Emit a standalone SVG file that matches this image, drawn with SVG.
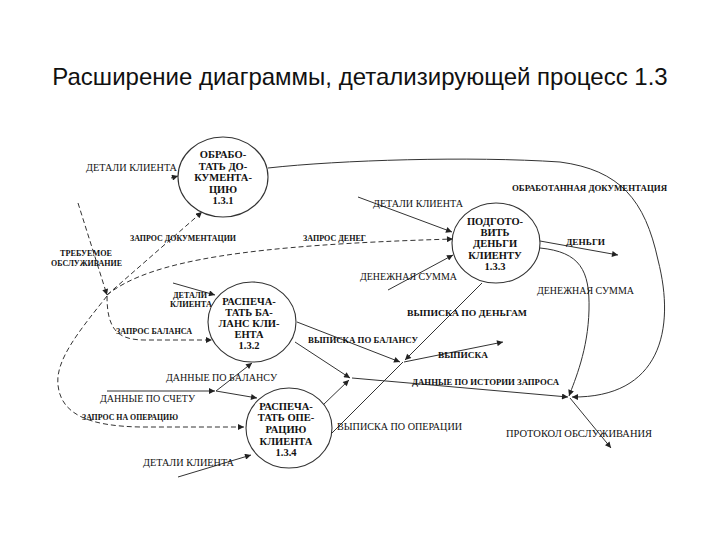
<svg xmlns="http://www.w3.org/2000/svg" width="720" height="540" viewBox="0 0 720 540">
<style>
.title{font-family:"Liberation Sans",Arial,sans-serif;font-size:24px;fill:#111}
.node ellipse{fill:#fff;stroke:#333;stroke-width:1.1}
.node text{font-family:"Liberation Serif","Times New Roman",serif;font-size:10.5px;font-weight:bold;fill:#111;text-anchor:middle}
.c{fill:none;stroke:#333;stroke-width:1}
.d{stroke-dasharray:5,3}
.a{marker-end:url(#ah)}
.lb{font-family:"Liberation Serif","Times New Roman",serif;font-size:8px;font-weight:bold;fill:#111}
.lt{font-family:"Liberation Serif","Times New Roman",serif;font-size:10px;fill:#111}
</style>
<defs>
<marker id="ah" viewBox="0 0 10 10" refX="10" refY="5" markerWidth="7" markerHeight="6" markerUnits="userSpaceOnUse" orient="auto">
<path d="M0,0 L10,5 L0,10 z" fill="#222"/>
</marker>
</defs>
<rect width="720" height="540" fill="#fff"/>
<text class="title" x="360" y="85" text-anchor="middle">Расширение диаграммы, детализирующей процесс 1.3</text>

<g id="connectors">
<!-- solid -->
<path class="c a" d="M268,168 C340,160 470,156 560,162 C620,170 645,200 658,260 C676,330 660,398 572,397"/>
<path class="c a" d="M171,178 L178,176"/>
<path class="c a" d="M358,197 L452,232"/>
<path class="c a" d="M388,290 L453,255"/>
<path class="c a" d="M540,241 L618,255"/>
<path class="c a" d="M540,248 C580,252 590,270 589,310 C588,350 575,380 569,396"/>
<path class="c a" d="M482,283 L405,360"/>
<path class="c" d="M332,433 L403,362"/>
<path class="c a" d="M297,322 L400,362"/>
<path class="c a" d="M404,362 L503,342"/>
<path class="c a" d="M295,342 L350,378"/>
<path class="c a" d="M323,405 L349,380"/>
<path class="c a" d="M352,378 L568,397"/>
<path class="c a" d="M570,398 L611,448"/>
<path class="c a" d="M173,283 L215,295"/>
<path class="c a" d="M107,391 L215,391"/>
<path class="c a" d="M216,391 L252,363"/>
<path class="c a" d="M216,391 L257,398"/>
<path class="c a" d="M178,477 L251,455"/>
<!-- dashed -->
<path class="c d a" d="M78,203 L107,295"/>
<path class="c d a" d="M107,295 L202,212"/>
<path class="c d a" d="M107,295 C150,260 250,245 453,239"/>
<path class="c d a" d="M107,296 C107,330 118,340 145,340 L212,340"/>
<path class="c d a" d="M107,296 C80,330 55,360 58,385 C61,415 90,426 140,427 L244,427"/>
</g>

<g id="labels">
<text class="lt" x="86" y="171" textLength="91" lengthAdjust="spacingAndGlyphs">ДЕТАЛИ КЛИЕНТА</text>
<text class="lb" x="60" y="256" textLength="52" lengthAdjust="spacingAndGlyphs">ТРЕБУЕМОЕ</text>
<text class="lb" x="51" y="266" textLength="71" lengthAdjust="spacingAndGlyphs">ОБСЛУЖИВАНИЕ</text>
<text class="lb" x="130" y="241" textLength="106" lengthAdjust="spacingAndGlyphs">ЗАПРОС ДОКУМЕНТАЦИИ</text>
<text class="lb" x="303" y="241" textLength="63" lengthAdjust="spacingAndGlyphs">ЗАПРОС ДЕНЕГ</text>
<text class="lt" x="373" y="207" textLength="90" lengthAdjust="spacingAndGlyphs">ДЕТАЛИ КЛИЕНТА</text>
<text class="lt" x="360" y="280" textLength="97" lengthAdjust="spacingAndGlyphs">ДЕНЕЖНАЯ СУММА</text>
<text class="lb" x="512" y="191" textLength="155" lengthAdjust="spacingAndGlyphs">ОБРАБОТАННАЯ ДОКУМЕНТАЦИЯ</text>
<text class="lb" x="566" y="245" textLength="39" lengthAdjust="spacingAndGlyphs">ДЕНЬГИ</text>
<text class="lt" x="537" y="294" textLength="97" lengthAdjust="spacingAndGlyphs">ДЕНЕЖНАЯ СУММА</text>
<text class="lb" x="407" y="316" textLength="120" lengthAdjust="spacingAndGlyphs">ВЫПИСКА ПО ДЕНЬГАМ</text>
<text class="lb" x="308" y="343" textLength="110" lengthAdjust="spacingAndGlyphs">ВЫПИСКА ПО БАЛАНСУ</text>
<text class="lb" x="438" y="358" textLength="50" lengthAdjust="spacingAndGlyphs">ВЫПИСКА</text>
<text class="lb" x="412" y="385" textLength="147" lengthAdjust="spacingAndGlyphs">ДАННЫЕ ПО ИСТОРИИ ЗАПРОСА</text>
<text class="lt" x="337" y="430" textLength="125" lengthAdjust="spacingAndGlyphs">ВЫПИСКА ПО ОПЕРАЦИИ</text>
<text class="lt" x="506" y="437" textLength="146" lengthAdjust="spacingAndGlyphs">ПРОТОКОЛ ОБСЛУЖИВАНИЯ</text>
<text class="lb" x="173" y="298" textLength="34" lengthAdjust="spacingAndGlyphs">ДЕТАЛИ</text>
<text class="lb" x="170" y="307" textLength="42" lengthAdjust="spacingAndGlyphs">КЛИЕНТА</text>
<text class="lb" x="116" y="334" textLength="76" lengthAdjust="spacingAndGlyphs">ЗАПРОС БАЛАНСА</text>
<text class="lt" x="166" y="381" textLength="111" lengthAdjust="spacingAndGlyphs">ДАННЫЕ ПО БАЛАНСУ</text>
<text class="lt" x="100" y="402" textLength="95" lengthAdjust="spacingAndGlyphs">ДАННЫЕ ПО СЧЕТУ</text>
<text class="lb" x="82" y="420" textLength="96" lengthAdjust="spacingAndGlyphs">ЗАПРОС НА ОПЕРАЦИЮ</text>
<text class="lt" x="143" y="466" textLength="91" lengthAdjust="spacingAndGlyphs">ДЕТАЛИ КЛИЕНТА</text>
</g>

<g id="node-1-3-1" class="node">
<ellipse cx="223" cy="177" rx="45" ry="40"/>
<text x="223" y="158">ОБРАБО-</text>
<text x="223" y="170">ТАТЬ ДО-</text>
<text x="223" y="181">КУМЕНТА-</text>
<text x="223" y="193">ЦИЮ</text>
<text x="223" y="204">1.3.1</text>
</g>
<g id="node-1-3-3" class="node">
<ellipse cx="496" cy="243" rx="44" ry="40"/>
<text x="495" y="225">ПОДГОТО-</text>
<text x="495" y="236">ВИТЬ</text>
<text x="495" y="247">ДЕНЬГИ</text>
<text x="495" y="259">КЛИЕНТУ</text>
<text x="495" y="270">1.3.3</text>
</g>
<g id="node-1-3-2" class="node">
<ellipse cx="252" cy="322" rx="44" ry="40"/>
<text x="249" y="305">РАСПЕЧА-</text>
<text x="249" y="316">ТАТЬ БА-</text>
<text x="249" y="327">ЛАНС КЛИ-</text>
<text x="249" y="338">ЕНТА</text>
<text x="249" y="349">1.3.2</text>
</g>
<g id="node-1-3-4" class="node">
<ellipse cx="289" cy="428" rx="43" ry="40"/>
<text x="286" y="410">РАСПЕЧА-</text>
<text x="286" y="421">ТАТЬ ОПЕ-</text>
<text x="286" y="433">РАЦИЮ</text>
<text x="286" y="445">КЛИЕНТА</text>
<text x="286" y="456">1.3.4</text>
</g>
</svg>
